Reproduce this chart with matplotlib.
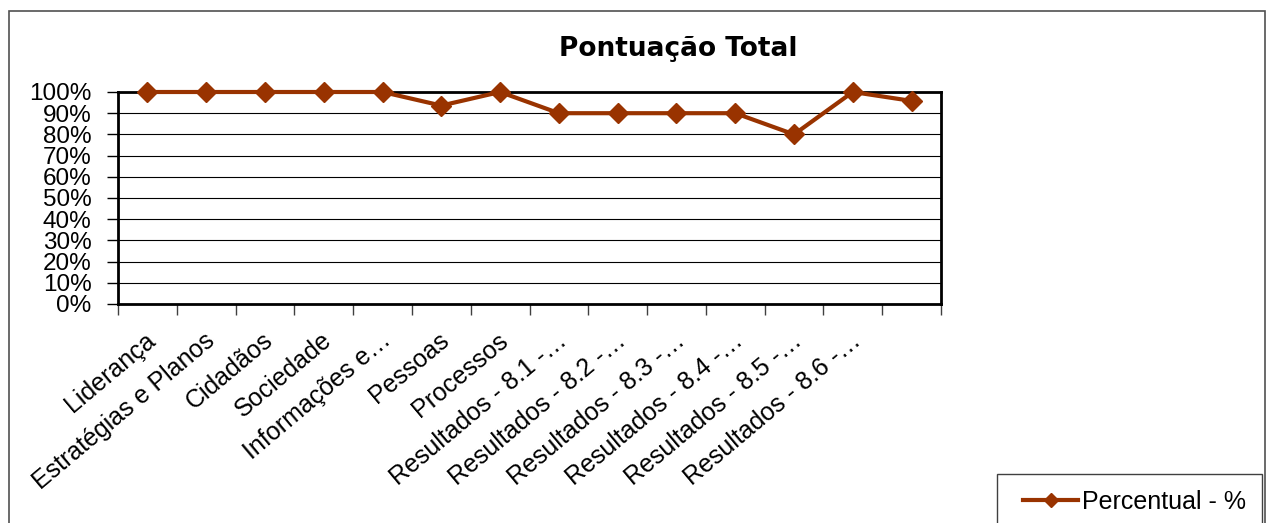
import matplotlib.pyplot as plt
from matplotlib.patches import Rectangle
from matplotlib.ticker import FuncFormatter
from matplotlib.transforms import ScaledTranslation
import numpy as np

plt.rcParams['font.family'] = ['Liberation Sans', 'DejaVu Sans']

categorias = ["Liderança", "Estratégias e Planos", "Cidadãos", "Sociedade",
              "Informações e…", "Pessoas", "Processos",
              "Resultados - 8.1 -…", "Resultados - 8.2 -…",
              "Resultados - 8.3 -…", "Resultados - 8.4 -…",
              "Resultados - 8.5 -…", "Resultados - 8.6 -…", ""]
percentual = [1.0, 1.0, 1.0, 1.0, 1.0, 0.936, 1.0, 0.90, 0.90, 0.90, 0.90,
              0.80, 1.0, 0.958]

W, H = 1267, 523
fig = plt.figure(figsize=(W / 100, H / 100), dpi=100)

# moldura externa do grafico (Excel)
fig.patches.append(Rectangle((9 / W, -0.05), 1256 / W, 1.05 - 11 / H,
                             transform=fig.transFigure, fill=False,
                             edgecolor='#505050', lw=1.2))

ax = fig.add_axes([118 / W, 1 - 304 / H, (941 - 118) / W, (304 - 92) / H])

x = np.arange(len(percentual))
ax.plot(x, percentual, color='#993300', lw=3, marker='D', ms=10,
        label='Percentual - %', zorder=3, clip_on=False)

ax.set_xlim(-0.5, len(percentual) - 0.5)
ax.set_ylim(0, 1)
ax.set_yticks(np.arange(0, 1.01, 0.1))
ax.yaxis.set_major_formatter(FuncFormatter(lambda v, p: f"{v * 100:.0f}%"))
ax.grid(axis='y', color='black', lw=0.8)
ax.set_axisbelow(True)

# ticks entre categorias, rotulos no centro
ax.set_xticks(np.arange(-0.5, len(percentual)), minor=False)
ax.set_xticklabels([])
ax.set_xticks(x, minor=True)
ax.set_xticklabels(categorias, minor=True, rotation=40, ha='right',
                   va='center', rotation_mode='anchor', fontsize=18)
ax.tick_params(axis='x', which='major', direction='out', length=8,
               width=1, color='#404040')
ax.tick_params(axis='x', which='minor', length=0, pad=24)
ax.tick_params(axis='y', direction='out', length=8, width=1,
               labelsize=17.5, pad=11)
desloc = ScaledTranslation(5 / 100, 0, fig.dpi_scale_trans)
for lbl in ax.get_xticklabels(minor=True):
    lbl.set_transform(lbl.get_transform() + desloc)

for s in ax.spines.values():
    s.set_linewidth(2)
    s.set_color('black')

fig.text(678 / W, 1 - 49 / H, "Pontuação Total", family='DejaVu Sans',
         fontweight='bold', fontsize=19, ha='center', va='center')

# caixa da legenda
fig.patches.append(Rectangle((997 / W, -0.05), (1262 - 997) / W,
                             0.05 + 1 - 474 / H,
                             transform=fig.transFigure, fill=False,
                             edgecolor='#404040', lw=1))
leg = fig.legend(loc='center left', bbox_to_anchor=(1023 / W, 1 - 502 / H),
                 frameon=False, fontsize=18, handlelength=2.2,
                 handletextpad=0.15, markerscale=0.7, borderpad=0,
                 borderaxespad=0)

fig.savefig('out.png', dpi=100)
